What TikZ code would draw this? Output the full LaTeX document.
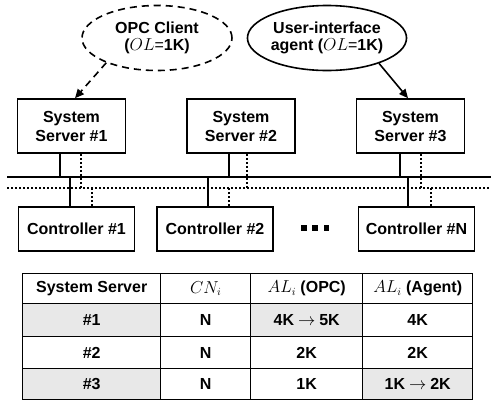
\documentclass[tikz,border=0pt]{standalone}
\usepackage{fontspec}
\setmainfont{Liberation Sans}
\usetikzlibrary{shapes.geometric,arrows.meta}
\tikzset{
  box/.style={draw,line width=1.6pt,minimum height=54pt,minimum width=108pt,align=center,inner sep=0pt},
  ctrl/.style={draw,line width=1.6pt,minimum height=44pt,minimum width=116pt,inner sep=0pt},
  bubble/.style={ellipse,draw,line width=1.6pt,minimum width=150pt,minimum height=65pt,align=center,inner sep=0pt,font=\fontsize{16}{17}\selectfont\bfseries},
  wire/.style={line width=1.5pt},
  dotwire/.style={line width=1.6pt,dash pattern=on 2pt off 2pt},
  dashline/.style={line width=1.6pt,dash pattern=on 7pt off 5pt},
  cell/.style={draw,line width=1.4pt,anchor=north west,inner sep=0pt},
  shade/.style={fill=black!9},
  tip/.style={-{Triangle[length=9pt,width=8pt]}}
}
\newcommand{\thinarrow}{\hspace{4pt}{\mdseries$\rightarrow$}\hspace{4pt}}
\begin{document}
\begin{tikzpicture}[x=1pt,y=-1pt,font=\fontsize{16}{19}\selectfont\bfseries]
\useasboundingbox (0,0) rectangle (491,400);

% bubbles
\node[bubble,dashline] (opc) at (157,38) {OPC Client\\({\mdseries$OL$=}1K)};
\node[bubble] (agent) at (327,38) {User-interface\\agent ({\mdseries$OL$=}1K)};

% servers
\node[box] (s1) at (71.5,126) {System\\Server \#1};
\node[box] (s2) at (241,126) {System\\Server \#2};
\node[box] (s3) at (410.5,126) {System\\Server \#3};

% controllers
\node[ctrl] (c1) at (76.5,229) {Controller \#1};
\node[ctrl] (c2) at (215,229) {Controller \#2};
\node[ctrl] (cN) at (416.5,229) {Controller \#N};

% arrows
\draw[dashline,tip] (opc.206) -- ([xshift=3.5pt]s1.north);
\draw[line width=1.6pt,tip] (agent.334) -- ([xshift=-2.5pt]s3.north);

% buses
\coordinate (busL) at (7,177);
\coordinate (busR) at (491,177);
\coordinate (dotL) at (7,188);
\coordinate (dotR) at (491,188);
\draw[wire] (busL) -- (busR);
\draw[dotwire] (dotL) -- (dotR);

% server drops
\draw[wire] ([xshift=43.5pt]s1.south west) -- ([xshift=43.5pt]s1.south west |- busL);
\draw[dotwire] ([xshift=64.5pt]s1.south west) -- ([xshift=64.5pt]s1.south west |- dotL);
\draw[wire] ([xshift=43pt]s2.south west) -- ([xshift=43pt]s2.south west |- busL);
\draw[dotwire] ([xshift=61pt]s2.south west) -- ([xshift=61pt]s2.south west |- dotL);
\draw[wire] ([xshift=44.5pt]s3.south west) -- ([xshift=44.5pt]s3.south west |- busL);
\draw[dotwire] ([xshift=65.5pt]s3.south west) -- ([xshift=65.5pt]s3.south west |- dotL);

% controller drops
\draw[wire] ([xshift=52.5pt]c1.north west) -- ([xshift=52.5pt]c1.north west |- busL);
\draw[dotwire] ([xshift=74.5pt]c1.north west) -- ([xshift=74.5pt]c1.north west |- dotL);
\draw[wire] ([xshift=52pt]c2.north west) -- ([xshift=52pt]c2.north west |- busL);
\draw[dotwire] ([xshift=73pt]c2.north west) -- ([xshift=73pt]c2.north west |- dotL);
\draw[wire] ([xshift=50.5pt]cN.north west) -- ([xshift=50.5pt]cN.north west |- busL);
\draw[dotwire] ([xshift=73.5pt]cN.north west) -- ([xshift=73.5pt]cN.north west |- dotL);

% ellipsis squares
\fill (301,225) rectangle ++(5.5,5.5);
\fill (312,225) rectangle ++(5.5,5.5);
\fill (323.5,225) rectangle ++(5.5,5.5);

% table
\node[cell,minimum width=138pt,minimum height=30pt] (h1) at (22,273) {System Server};
\node[cell,minimum width=90pt,minimum height=30pt] (h2) at (160,273) {\mdseries$CN_i$};
\node[cell,minimum width=112pt,minimum height=30pt] (h3) at (250,273) {{\mdseries$AL_i$} (OPC)};
\node[cell,minimum width=110pt,minimum height=30pt] (h4) at (362,273) {{\mdseries$AL_i$} (Agent)};

\node[cell,shade,minimum width=138pt,minimum height=33pt] (r11) at (22,303) {\#1};
\node[cell,minimum width=90pt,minimum height=33pt] (r12) at (160,303) {N};
\node[cell,shade,minimum width=112pt,minimum height=33pt] (r13) at (250,303) {4K\thinarrow 5K};
\node[cell,minimum width=110pt,minimum height=33pt] (r14) at (362,303) {4K};

\node[cell,minimum width=138pt,minimum height=32pt] (r21) at (22,336) {\#2};
\node[cell,minimum width=90pt,minimum height=32pt] (r22) at (160,336) {N};
\node[cell,minimum width=112pt,minimum height=32pt] (r23) at (250,336) {2K};
\node[cell,minimum width=110pt,minimum height=32pt] (r24) at (362,336) {2K};

\node[cell,shade,minimum width=138pt,minimum height=31pt] (r31) at (22,368) {\#3};
\node[cell,minimum width=90pt,minimum height=31pt] (r32) at (160,368) {N};
\node[cell,minimum width=112pt,minimum height=31pt] (r33) at (250,368) {1K};
\node[cell,shade,minimum width=110pt,minimum height=31pt] (r34) at (362,368) {1K\thinarrow 2K};
\end{tikzpicture}
\end{document}
